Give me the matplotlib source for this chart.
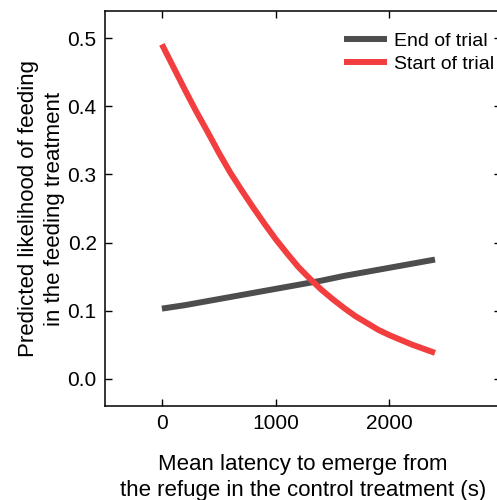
from matplotlib import pyplot as plt

plt.rcParams['font.family'] = ['Liberation Sans', 'DejaVu Sans']

# valores, cada 100 s
latency = [0, 100, 200, 300, 400, 500, 600, 700, 800, 900, 1000, 1100, 1200,
           1300, 1400, 1500, 1600, 1700, 1800, 1900, 2000, 2100, 2200, 2300, 2400]
end_trial = [0.103, 0.1055, 0.108, 0.111, 0.114, 0.117, 0.120, 0.123, 0.126, 0.129, 0.132, 0.135, 0.138,
             0.141, 0.144, 0.1475, 0.151, 0.154, 0.157, 0.160, 0.163, 0.166, 0.169, 0.172, 0.175]
start_trial = [0.491, 0.458, 0.425, 0.393, 0.363, 0.332, 0.303, 0.277, 0.252, 0.228, 0.205, 0.184, 0.164,
               0.147, 0.131, 0.117, 0.104, 0.092, 0.082, 0.072, 0.064, 0.057, 0.050, 0.044, 0.038]

x_ticks = [0, 1000, 2000]
y_ticks = [0.0, 0.1, 0.2, 0.3, 0.4, 0.5]

gray = '#4d4d4d'
red = '#f23e3e'

fig = plt.figure(figsize=(4.97, 5.0), dpi=100)
ax = fig.add_axes([105 / 497, 1 - 406 / 500, (501 - 105) / 497, (406 - 11) / 500])

ax.plot(latency, end_trial, color=gray, lw=4.3, solid_capstyle='butt', solid_joinstyle='round', label='End of trial')
ax.plot(latency, start_trial, color=red, lw=4.3, solid_capstyle='butt', solid_joinstyle='round', label='Start of trial')

ax.set_xlim(-500, 2980)
ax.set_ylim(-0.04, 0.54)
ax.set_xticks(x_ticks)
ax.set_yticks(y_ticks)
ax.set_yticklabels(['{:.1f}'.format(v) for v in y_ticks])
ax.tick_params(direction='in', top=True, right=True, length=5, width=1, labelsize=15, pad=6)
for s in ax.spines.values():
    s.set_linewidth(1.1)

ax.set_xlabel('Mean latency to emerge from\nthe refuge in the control treatment (s)', fontsize=16, labelpad=15, linespacing=1.3)
ax.set_ylabel('Predicted likelihood of feeding\nin the feeding treatment', fontsize=16, labelpad=2, linespacing=1.3)

ax.legend(loc='upper right', frameon=False, fontsize=14, handlelength=2.2, handletextpad=0.36,
          borderaxespad=0, borderpad=0, labelspacing=0.3, bbox_to_anchor=(0.983, 0.947))

fig.savefig('out.png', dpi=100)
